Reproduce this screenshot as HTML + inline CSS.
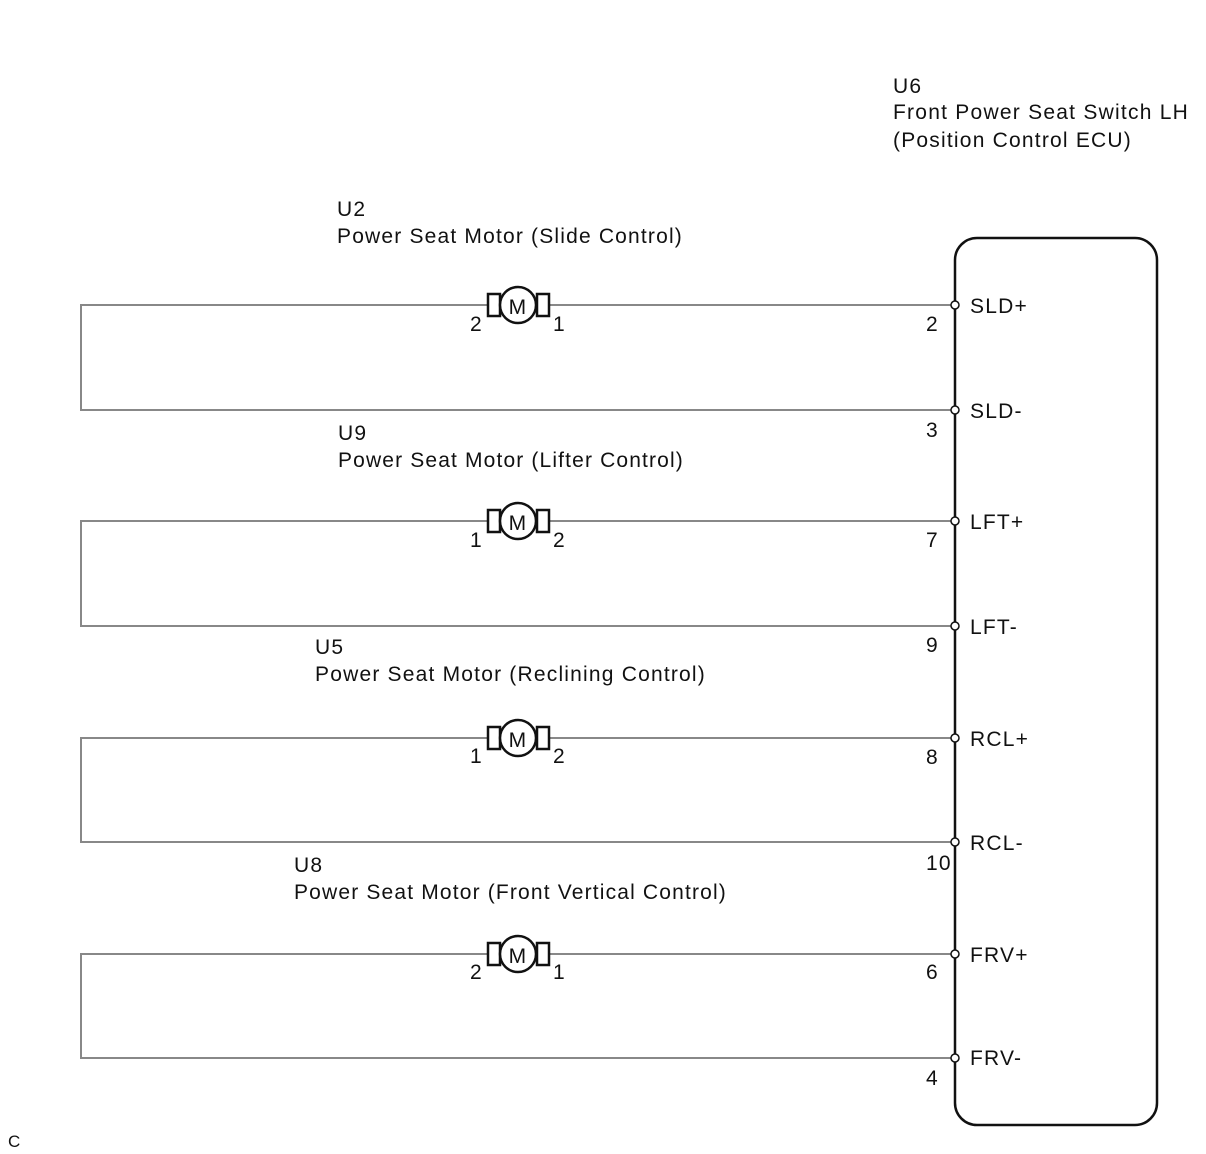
<!DOCTYPE html>
<html><head><style>body{margin:0;background:#fff}svg{display:block}text{font-family:"Liberation Sans",Arial,sans-serif;font-size:21px;letter-spacing:1.2px;fill:#111}</style></head>
<body>
<svg width="1206" height="1154" viewBox="0 0 1206 1154" xmlns="http://www.w3.org/2000/svg">
<rect x="955" y="238" width="202" height="887" rx="22" fill="none" stroke="#111" stroke-width="2.5"/>
<g stroke="#888" stroke-width="2" fill="none">
<path d="M955 305H81V410H955"/>
<path d="M955 521H81V626H955"/>
<path d="M955 738H81V842H955"/>
<path d="M955 954H81V1058H955"/>
</g>
<g fill="#fff" stroke="#111" stroke-width="1.5">
<circle cx="955" cy="305" r="4"/><circle cx="955" cy="410" r="4"/>
<circle cx="955" cy="521" r="4"/><circle cx="955" cy="626" r="4"/>
<circle cx="955" cy="738" r="4"/><circle cx="955" cy="842" r="4"/>
<circle cx="955" cy="954" r="4"/><circle cx="955" cy="1058" r="4"/>
</g>
<g id="m" stroke="#111" stroke-width="2.5" fill="#fff">
<rect x="488" y="294" width="12" height="22"/><rect x="537" y="294" width="12" height="22"/>
<circle cx="518" cy="305" r="18"/>
</g>
<use href="#m" y="216"/><use href="#m" y="433"/><use href="#m" y="649"/>
<g style="font-size:24px;letter-spacing:0" text-anchor="middle">
<text x="518" y="314">M</text>
<text x="518" y="530">M</text>
<text x="518" y="747">M</text>
<text x="518" y="963">M</text>
</g>
<text x="470" y="331">2</text><text x="553" y="331">1</text>
<text x="470" y="547">1</text><text x="553" y="547">2</text>
<text x="470" y="763">1</text><text x="553" y="763">2</text>
<text x="470" y="979">2</text><text x="553" y="979">1</text>
<text x="926" y="331">2</text><text x="926" y="437">3</text>
<text x="926" y="547">7</text><text x="926" y="652">9</text>
<text x="926" y="764">8</text><text x="926" y="870">10</text>
<text x="926" y="979">6</text><text x="926" y="1085">4</text>
<text x="970" y="313">SLD+</text><text x="970" y="418">SLD-</text>
<text x="970" y="529">LFT+</text><text x="970" y="634">LFT-</text>
<text x="970" y="746">RCL+</text><text x="970" y="850">RCL-</text>
<text x="970" y="962">FRV+</text><text x="970" y="1065">FRV-</text>
<text x="893" y="93">U6</text>
<text x="893" y="119" textLength="296" lengthAdjust="spacing">Front Power Seat Switch LH</text>
<text x="893" y="147" textLength="239" lengthAdjust="spacing">(Position Control ECU)</text>
<text x="337" y="216">U2</text><text x="337" y="243" textLength="346" lengthAdjust="spacing">Power Seat Motor (Slide Control)</text>
<text x="338" y="440">U9</text><text x="338" y="467" textLength="346" lengthAdjust="spacing">Power Seat Motor (Lifter Control)</text>
<text x="315" y="654">U5</text><text x="315" y="681" textLength="391" lengthAdjust="spacing">Power Seat Motor (Reclining Control)</text>
<text x="294" y="872">U8</text><text x="294" y="899" textLength="433" lengthAdjust="spacing">Power Seat Motor (Front Vertical Control)</text>
<text x="8" y="1147" style="font-size:17px;letter-spacing:0">C</text>
</svg>
</body></html>
